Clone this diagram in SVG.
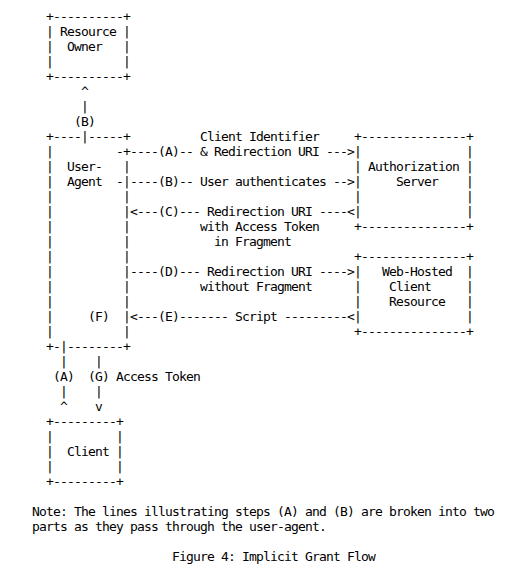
<svg xmlns="http://www.w3.org/2000/svg" width="518" height="577" viewBox="0 0 518 577" xml:space="preserve">
<style>
text{font-family:"DejaVu Sans Mono","Liberation Mono",monospace;font-size:13px;letter-spacing:-0.827px;fill:#000;white-space:pre}
</style>
<rect width="518" height="577" fill="#fff"/>
<g id="resource-owner">
<text x="46" y="21">+----------+</text>
<text x="46" y="36">| Resource |</text>
<text x="46" y="51">|  Owner   |</text>
<text x="46" y="66">|          |</text>
<text x="46" y="81">+----------+</text>
</g>
<g id="user-agent">
<text x="46" y="141">+----|-----+</text>
<text x="46" y="156">|         -+</text>
<text x="46" y="171">|  User-   |</text>
<text x="46" y="186">|  Agent  -|</text>
<text x="46" y="201">|          |</text>
<text x="46" y="216">|          |</text>
<text x="46" y="231">|          |</text>
<text x="46" y="246">|          |</text>
<text x="46" y="261">|          |</text>
<text x="46" y="276">|          |</text>
<text x="46" y="291">|          |</text>
<text x="46" y="306">|          |</text>
<text x="46" y="321">|     (F)  |</text>
<text x="46" y="336">|          |</text>
<text x="46" y="351">+-|--------+</text>
</g>
<g id="authorization-server">
<text x="354" y="141">+---------------+</text>
<text x="354" y="156">|               |</text>
<text x="354" y="171">| Authorization |</text>
<text x="354" y="186">|     Server    |</text>
<text x="354" y="201">|               |</text>
<text x="354" y="216">|               |</text>
<text x="354" y="231">+---------------+</text>
</g>
<g id="web-hosted-client-resource">
<text x="354" y="261">+---------------+</text>
<text x="354" y="276">|   Web-Hosted  |</text>
<text x="354" y="291">|    Client     |</text>
<text x="354" y="306">|    Resource   |</text>
<text x="354" y="321">|               |</text>
<text x="354" y="336">+---------------+</text>
</g>
<g id="client">
<text x="46" y="426">+---------+</text>
<text x="46" y="441">|         |</text>
<text x="46" y="456">|  Client |</text>
<text x="46" y="471">|         |</text>
<text x="46" y="486">+---------+</text>
</g>
<g id="connectors">
<text x="81" y="96">^</text>
<text x="81" y="111">|</text>
<text x="74" y="126">(B)</text>
<text x="200" y="141">Client Identifier</text>
<text x="130" y="156">----(A)-- &amp; Redirection URI ---&gt;</text>
<text x="130" y="186">----(B)-- User authenticates --&gt;</text>
<text x="130" y="216">&lt;---(C)--- Redirection URI ----&lt;</text>
<text x="200" y="231">with Access Token</text>
<text x="214" y="246">in Fragment</text>
<text x="130" y="276">----(D)--- Redirection URI ----&gt;</text>
<text x="200" y="291">without Fragment</text>
<text x="130" y="321">&lt;---(E)------- Script ---------&lt;</text>
<text x="60" y="366">|</text>
<text x="95" y="366">|</text>
<text x="53" y="381">(A)</text>
<text x="88" y="381">(G) Access Token</text>
<text x="60" y="396">|</text>
<text x="95" y="396">|</text>
<text x="60" y="411">^</text>
<text x="95" y="411">v</text>
</g>
<g id="notes">
<text x="32" y="516">Note: The lines illustrating steps (A) and (B) are broken into two</text>
<text x="32" y="531">parts as they pass through the user-agent.</text>
<text x="172" y="561">Figure 4: Implicit Grant Flow</text>
</g>
</svg>
